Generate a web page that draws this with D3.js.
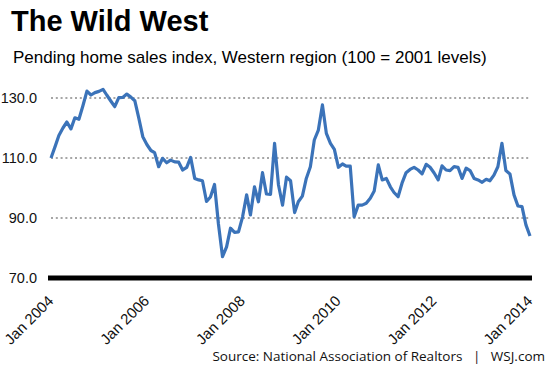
<!DOCTYPE html>
<html>
<head>
<meta charset="utf-8">
<script src="https://cdn.jsdelivr.net/npm/d3@7"></script>
<style>
  body { margin: 0; background: #fff; }
  svg { display: block; }
</style>
</head>
<body>
<div id="chart-area"></div>
<script>
// Pending home sales index, West, monthly Jan 2004 - Jan 2014
var startMonth = "2004-01";
var values = [
  110, 113.8, 117.5, 120, 122, 119.7, 123.4, 122.9, 127.5, 132.3, 131, 131.8,
  132.2, 132.9, 131, 129, 127.1, 130.1, 130.2, 131.3, 130.3, 129.1, 123.2, 117.1,
  114.5, 112.5, 111.8, 107.1, 109.9, 108.4, 109.3, 108.7, 108.6, 106, 106.9, 110.2,
  103.2, 102.7, 102.4, 95.5, 97, 101.2, 88, 77.1, 80.4, 86.6, 85.2, 85.4,
  90.4, 97.7, 91, 100.4, 95.4, 105.1, 98, 97.9, 114.9, 101, 94.3, 103.6,
  102.4, 91.8, 95.4, 97.3, 103.2, 107.1, 116, 119.3, 127.7, 118.2, 114.9, 112.9,
  106.9, 108, 107.3, 107.3, 90.4, 94.3, 94.3, 94.9, 96.6, 99, 107.7, 102.7,
  103.2, 100.4, 98.5, 97.1, 101.6, 105.1, 106.2, 106.9, 106, 104.7, 107.9, 106.9,
  105, 102.7, 107.4, 106, 105.8, 107.1, 106.9, 103.2, 106.6, 105.8, 103.2, 102.7,
  101.9, 102.9, 102.4, 104.3, 107.1, 114.9, 105.8, 104.7, 97.7, 94, 93.8, 87.7,
  84
];
var yTicks = [70, 90, 110, 130];
var xTickLabels = ["Jan 2004", "Jan 2006", "Jan 2008", "Jan 2010", "Jan 2012", "Jan 2014"];

var width = 553, height = 369;
var margin = {left: 51, right: 23, top: 98, bottom: 91};

var parseMonth = d3.timeParse("%Y-%m");
var t0 = parseMonth(startMonth);
var data = values.map((v, i) => ({date: d3.timeMonth.offset(t0, i), value: v}));

var svg = d3.select("#chart-area")
  .append("svg")
    .attr("width", width)
    .attr("height", height);

var x = d3.scaleTime()
  .domain(d3.extent(data, d => d.date))
  .range([margin.left, width - margin.right]);

var y = d3.scaleLinear()
  .domain([70, 130])
  .range([height - margin.bottom, margin.top]);

// title + subtitle
svg.append("text")
  .attr("x", 11)
  .attr("y", 31)
  .style("font-family", "'Liberation Sans', Arial, sans-serif")
  .style("font-weight", "bold")
  .style("font-size", "29px")
  .text("The Wild West");

svg.append("text")
  .attr("x", 13)
  .attr("y", 63)
  .style("font-family", "'Liberation Sans', Arial, sans-serif")
  .style("font-size", "17px")
  .text("Pending home sales index, Western region (100 = 2001 levels)");

// gridlines
svg.append("g")
  .selectAll("line")
  .data(yTicks.filter(d => d !== 70))
  .enter()
  .append("line")
    .attr("x1", x.range()[0])
    .attr("x2", x.range()[1])
    .attr("y1", d => y(d))
    .attr("y2", d => y(d))
    .attr("stroke", "#a6a6a6")
    .attr("stroke-width", 2)
    .attr("stroke-dasharray", "2,2.8");

// y axis labels
var yAxis = d3.axisLeft(y)
  .tickValues(yTicks)
  .tickFormat(d3.format(".1f"))
  .tickSize(0)
  .tickPadding(0);

var yAxisGroup = svg.append("g")
  .attr("transform", "translate(37,0)")
  .call(yAxis);
yAxisGroup.select(".domain").remove();
yAxisGroup.selectAll("text")
  .style("font-family", "'Liberation Sans', Arial, sans-serif")
  .style("font-size", "14.5px")
  .attr("fill", "#111");

// baseline
svg.append("line")
  .attr("x1", x.range()[0] - 3)
  .attr("x2", x.range()[1] + 2)
  .attr("y1", y(70))
  .attr("y2", y(70))
  .attr("stroke", "#000")
  .attr("stroke-width", 5);

// x axis labels
var xTickDates = xTickLabels.map(s => d3.timeParse("%b %Y")(s));
var xAxis = d3.axisBottom(x)
  .tickValues(xTickDates)
  .tickFormat(d3.timeFormat("%b %Y"))
  .tickSize(0);

var xAxisGroup = svg.append("g")
  .attr("transform", "translate(0," + (y(70) + 6) + ")")
  .call(xAxis);
xAxisGroup.select(".domain").remove();
xAxisGroup.selectAll("text")
  .style("font-family", "'Liberation Sans', Arial, sans-serif")
  .style("font-size", "15px")
  .attr("fill", "#111")
  .attr("text-anchor", "end")
  .attr("dy", "0.35em")
  .attr("transform", "translate(-3,12) rotate(-45)");

// the line
var line = d3.line()
  .x(d => x(d.date))
  .y(d => y(d.value));

svg.append("path")
  .datum(data)
  .attr("fill", "none")
  .attr("stroke", "#3b73b9")
  .attr("stroke-width", 3.2)
  .attr("stroke-linejoin", "round")
  .attr("d", line);

// source
svg.append("text")
  .attr("x", 545)
  .attr("y", 361)
  .attr("text-anchor", "end")
  .style("font-family", "'Open Sans', sans-serif")
  .style("font-size", "13.5px")
  .attr("fill", "#111")
  .attr("xml:space", "preserve")
  .text("Source: National Association of Realtors   |   WSJ.com");
</script>
</body>
</html>
